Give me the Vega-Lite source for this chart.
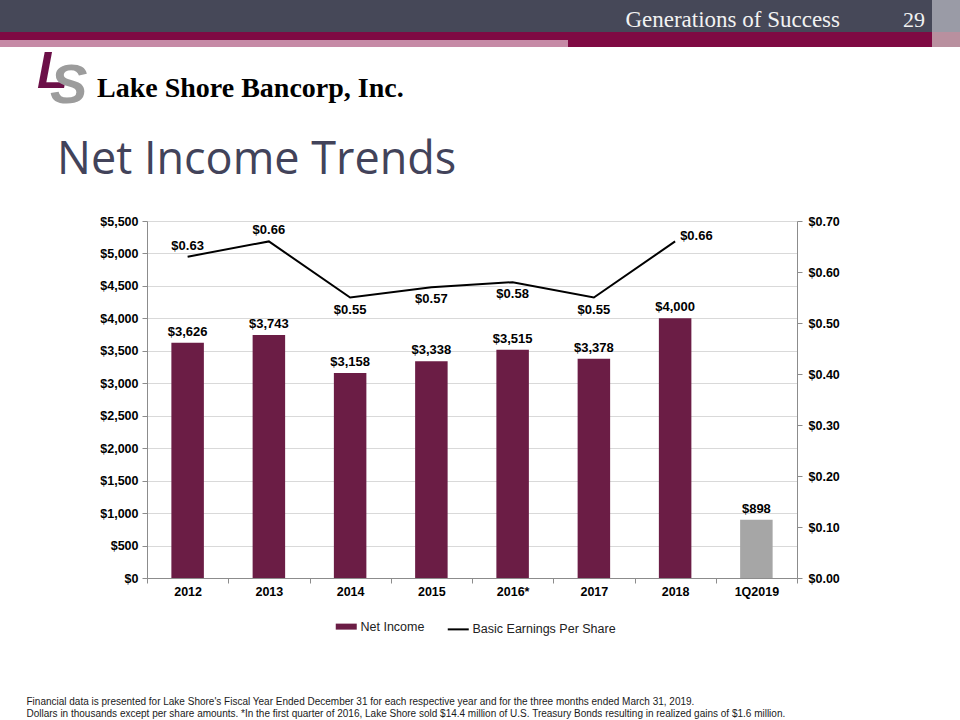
{
  "$schema": "https://vega.github.io/schema/vega-lite/v6.json",
  "background": "white",
  "padding": 0,
  "spacing": 0,
  "config": {
    "view": {"stroke": null},
    "font": "Liberation Sans",
    "concat": {"spacing": 0}
  },
  "datasets": {
    "blank": [{}],
    "income": [
      {"period": "2012", "net_income": 3626, "eps": 0.63, "kind": "Net Income"},
      {"period": "2013", "net_income": 3743, "eps": 0.66, "kind": "Net Income"},
      {"period": "2014", "net_income": 3158, "eps": 0.55, "kind": "Net Income"},
      {"period": "2015", "net_income": 3338, "eps": 0.57, "kind": "Net Income"},
      {"period": "2016*", "net_income": 3515, "eps": 0.58, "kind": "Net Income"},
      {"period": "2017", "net_income": 3378, "eps": 0.55, "kind": "Net Income"},
      {"period": "2018", "net_income": 4000, "eps": 0.66, "kind": "Net Income"},
      {"period": "1Q2019", "net_income": 898, "eps": null, "kind": "Interim"}
    ]
  },
  "vconcat": [
    {
      "hconcat": [
        {"width": 870, "height": 32, "view": {"fill": "#464858"}, "data": {"name": "blank"}, "mark": {"type": "point", "opacity": 0},
         "title": {"text": "Generations of Success", "orient": "bottom", "frame": "group", "anchor": "end", "offset": -23, "dx": -30, "font": "Liberation Serif", "fontSize": 23, "fontWeight": "normal", "color": "#f2f2f2"}},
        {"width": 62, "height": 32, "view": {"fill": "#464858"}, "data": {"name": "blank"}, "mark": {"type": "point", "opacity": 0},
         "title": {"text": "29", "orient": "bottom", "frame": "group", "anchor": "start", "offset": -22, "dx": 33, "font": "Liberation Serif", "fontSize": 22, "fontWeight": "normal", "color": "#f2f2f2"}},
        {"width": 28, "height": 32, "view": {"fill": "#9a9ba6"}, "data": {"name": "blank"}, "mark": {"type": "point", "opacity": 0}}
      ],
      "spacing": 0, "bounds": "flush"
    },
    {
      "hconcat": [
        {"width": 932, "height": 8, "view": {"fill": "#7f0a43"}, "data": {"name": "blank"}, "mark": {"type": "point", "opacity": 0}},
        {"width": 28, "height": 8, "view": {"fill": "#b9909f"}, "data": {"name": "blank"}, "mark": {"type": "point", "opacity": 0}}
      ],
      "spacing": 0, "bounds": "flush"
    },
    {
      "hconcat": [
        {"width": 568, "height": 7, "view": {"fill": "#c68aa6"}, "data": {"name": "blank"}, "mark": {"type": "point", "opacity": 0}},
        {"width": 364, "height": 7, "view": {"fill": "#7f0a43"}, "data": {"name": "blank"}, "mark": {"type": "point", "opacity": 0}},
        {"width": 28, "height": 7, "view": {"fill": "#b9909f"}, "data": {"name": "blank"}, "mark": {"type": "point", "opacity": 0}}
      ],
      "spacing": 0, "bounds": "flush"
    },
    {
      "hconcat": [
        {"width": 50, "height": 70, "data": {"name": "blank"}, "mark": {"type": "point", "opacity": 0},
         "title": {"text": "L", "orient": "bottom", "frame": "group", "anchor": "start", "offset": -70, "dx": 37, "font": "Liberation Sans", "fontSize": 51, "fontWeight": "bold", "fontStyle": "italic", "color": "#6c1048"}},
        {"width": 45, "height": 70, "data": {"name": "blank"}, "mark": {"type": "point", "opacity": 0},
         "title": {"text": "S", "orient": "bottom", "frame": "group", "anchor": "start", "offset": -59, "dx": 0, "font": "Liberation Sans", "fontSize": 56, "fontWeight": "bold", "fontStyle": "italic", "color": "#9c9c9c"}},
        {"width": 865, "height": 70, "data": {"name": "blank"}, "mark": {"type": "point", "opacity": 0},
         "title": {"text": "Lake Shore Bancorp, Inc.", "orient": "bottom", "frame": "group", "anchor": "start", "offset": -43, "dx": 2, "font": "Liberation Serif", "fontSize": 28, "fontWeight": "bold", "color": "#000000"}}
      ],
      "spacing": 0, "bounds": "flush"
    },
    {
      "width": 960, "height": 97, "data": {"name": "blank"}, "mark": {"type": "point", "opacity": 0},
      "title": {"text": "Net Income Trends", "orient": "bottom", "frame": "group", "anchor": "start", "offset": -77, "dx": 57, "font": "Open Sans", "fontSize": 45, "fontWeight": "normal", "color": "#42435a"}
    },
    {
      "hconcat": [
        {"width": 147, "height": 357, "data": {"name": "blank"}, "mark": {"type": "point", "opacity": 0}},
        {
          "width": 650,
          "height": 357,
          "data": {"name": "income"},
          "encoding": {
            "x": {
              "field": "period", "type": "nominal", "sort": null,
              "scale": {"paddingInner": 0, "paddingOuter": 0},
              "axis": {
                "title": [
                  "Financial data is presented for Lake Shore's Fiscal Year Ended December 31 for each respective year and for the three months ended March 31, 2019.",
                  "Dollars in thousands except per share amounts. *In the first quarter of 2016, Lake Shore sold $14.4 million of U.S. Treasury Bonds resulting in realized gains of $1.6 million."
                ],
                "titleFontSize": 10, "titleFontWeight": "normal", "titleColor": "#1a1a1a",
                "titleX": -121, "titleY": 126, "titleAlign": "left", "titleBaseline": "alphabetic", "titleLineHeight": 12.5,
                "labelFontSize": 12.5, "labelFontWeight": "bold", "labelColor": "#000000", "labelPadding": 2, "labelAngle": 0,
                "tickBand": "extent", "tickSize": 5, "tickColor": "#8c8c8c", "domainColor": "#8c8c8c", "grid": false
              }
            }
          },
          "layer": [
            {
              "encoding": {
                "y": {
                  "field": "net_income", "type": "quantitative",
                  "scale": {"domain": [0, 5500]},
                  "axis": {
                    "orient": "left", "title": null,
                    "values": [0, 500, 1000, 1500, 2000, 2500, 3000, 3500, 4000, 4500, 5000, 5500],
                    "format": "$,.0f", "labelFontSize": 12.5, "labelFontWeight": "bold", "labelColor": "#000000", "labelPadding": 4,
                    "tickSize": 5, "tickColor": "#8c8c8c", "domainColor": "#8c8c8c", "grid": true, "gridColor": "#d9d9d9"
                  }
                }
              },
              "layer": [
                {
                  "mark": {"type": "bar", "width": {"band": 0.4}},
                  "encoding": {
                    "color": {
                      "field": "kind", "type": "nominal",
                      "scale": {"domain": ["Net Income", "Basic Earnings Per Share", "Interim"], "range": ["#6b1d45", "#000000", "#a6a6a6"]},
                      "legend": {
                        "orient": "none", "legendX": 340, "legendY": 620, "direction": "horizontal", "title": null,
                        "values": ["Net Income", "Basic Earnings Per Share"],
                        "labelFontSize": 12.5, "labelColor": "#222222", "labelFont": "Liberation Sans", "labelOffset": 8,
                        "symbolType": "stroke", "symbolSize": 441, "columnPadding": 18, "symbolStrokeWidth": 2,
                        "encode": {"symbols": {"update": {"stroke": {"scale": "color", "field": "value"}, "strokeWidth": {"signal": "datum.value === 'Net Income' ? 6 : 2"}, "fill": {"value": "transparent"}}}}
                      }
                    }
                  }
                },
                {
                  "mark": {"type": "text", "fontWeight": "bold", "fontSize": 13, "baseline": "alphabetic", "dy": -7, "color": "#000000"},
                  "encoding": {"text": {"field": "net_income", "type": "quantitative", "format": "$,.0f"}}
                }
              ]
            },
            {
              "transform": [{"filter": "isValid(datum.eps)"}],
              "encoding": {
                "y": {
                  "field": "eps", "type": "quantitative",
                  "scale": {"domain": [0, 0.7]},
                  "axis": {
                    "orient": "right", "title": null,
                    "values": [0, 0.1, 0.2, 0.3, 0.4, 0.5, 0.6, 0.7],
                    "format": "$.2f", "labelFontSize": 12.5, "labelFontWeight": "bold", "labelColor": "#000000", "labelPadding": 6,
                    "tickSize": 5, "tickColor": "#8c8c8c", "domainColor": "#8c8c8c", "grid": false
                  }
                }
              },
              "layer": [
                {
                  "mark": {"type": "line", "strokeWidth": 2},
                  "encoding": {"color": {"datum": "Basic Earnings Per Share"}}
                },
                {
                  "transform": [{"filter": {"field": "period", "oneOf": ["2012", "2013"]}}],
                  "mark": {"type": "text", "fontWeight": "bold", "fontSize": 13, "baseline": "alphabetic", "dy": -7, "color": "#000000"},
                  "encoding": {"text": {"field": "eps", "type": "quantitative", "format": "$.2f"}}
                },
                {
                  "transform": [{"filter": {"field": "period", "oneOf": ["2014", "2015", "2016*", "2017"]}}],
                  "mark": {"type": "text", "fontWeight": "bold", "fontSize": 13, "baseline": "alphabetic", "dy": 16, "color": "#000000"},
                  "encoding": {"text": {"field": "eps", "type": "quantitative", "format": "$.2f"}}
                },
                {
                  "transform": [{"filter": {"field": "period", "equal": "2018"}}],
                  "mark": {"type": "text", "fontWeight": "bold", "fontSize": 13, "baseline": "alphabetic", "align": "left", "dx": 5, "dy": -1, "color": "#000000"},
                  "encoding": {"text": {"field": "eps", "type": "quantitative", "format": "$.2f"}}
                }
              ]
            }
          ],
          "resolve": {"scale": {"y": "independent"}}
        }
      ],
      "spacing": 0, "bounds": "flush"
    }
  ]
}
